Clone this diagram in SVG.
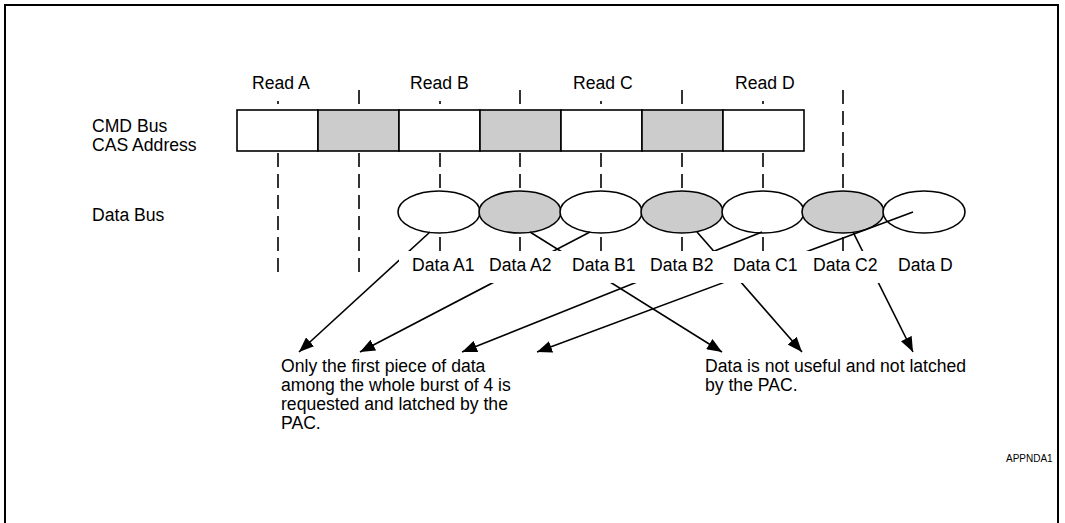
<svg xmlns="http://www.w3.org/2000/svg" width="1065" height="523" viewBox="0 0 1065 523">
<style>
text{font-family:"Liberation Sans",Arial,sans-serif;font-size:17.6px;fill:#000}
.dash{stroke:#000;stroke-width:1.6;stroke-dasharray:14 7;fill:none}
.cell{stroke:#000;stroke-width:1.6}
.w{fill:#fff}
.g{fill:#cccccc}
.con{stroke:#000;stroke-width:1.6;fill:none;marker-end:url(#ah)}
.mask{fill:#fff;stroke:none}
</style>
<defs>
<marker id="ah" viewBox="0 0 15 12" refX="15" refY="6" markerWidth="15" markerHeight="12" markerUnits="userSpaceOnUse" orient="auto">
<path d="M0,0 L15,6 L0,12 z" fill="#000"/>
</marker>
</defs>
<rect width="1065" height="523" fill="#fff"/>
<path d="M5,540 V5 H1058 V540" fill="none" stroke="#000" stroke-width="2"/>

<g id="gridlines">
<line class="dash" x1="278" y1="90" x2="278" y2="272"/>
<line class="dash" x1="359" y1="90" x2="359" y2="272"/>
<line class="dash" x1="440" y1="90" x2="440" y2="272"/>
<line class="dash" x1="520" y1="90" x2="520" y2="272"/>
<line class="dash" x1="601" y1="90" x2="601" y2="272"/>
<line class="dash" x1="682" y1="90" x2="682" y2="272"/>
<line class="dash" x1="763" y1="90" x2="763" y2="272"/>
<line class="dash" x1="843" y1="90" x2="843" y2="272"/>
</g>

<g id="read-labels">
<rect class="mask" x="240" y="68" width="80" height="33"/>
<rect class="mask" x="400" y="68" width="80" height="33"/>
<rect class="mask" x="561" y="68" width="80" height="33"/>
<rect class="mask" x="723" y="68" width="80" height="33"/>
<text x="252" y="89">Read A</text>
<text x="410" y="89">Read B</text>
<text x="573" y="89">Read C</text>
<text x="735" y="89">Read D</text>
</g>

<g id="row-labels">
<text x="92" y="132">CMD Bus</text>
<text x="92" y="151">CAS Address</text>
<text x="92" y="221">Data Bus</text>
</g>

<g id="cmd-bus">
<rect class="cell w" x="237" y="110" width="81" height="41"/>
<rect class="cell g" x="318" y="110" width="81" height="41"/>
<rect class="cell w" x="399" y="110" width="81" height="41"/>
<rect class="cell g" x="480" y="110" width="81" height="41"/>
<rect class="cell w" x="561" y="110" width="81" height="41"/>
<rect class="cell g" x="642" y="110" width="81" height="41"/>
<rect class="cell w" x="723" y="110" width="81" height="41"/>
</g>

<g id="data-bus">
<ellipse class="cell w" cx="439" cy="212" rx="41" ry="21"/>
<ellipse class="cell g" cx="520" cy="212" rx="41" ry="21"/>
<ellipse class="cell w" cx="601" cy="212" rx="41" ry="21"/>
<ellipse class="cell g" cx="682" cy="212" rx="41" ry="21"/>
<ellipse class="cell w" cx="763" cy="212" rx="41" ry="21"/>
<ellipse class="cell g" cx="843" cy="212" rx="41" ry="21"/>
<ellipse class="cell w" cx="924" cy="212" rx="41" ry="21"/>
</g>

<g id="connectors">
<line class="con" x1="430" y1="232" x2="299" y2="352"/>
<line class="con" x1="590" y1="232" x2="360" y2="352"/>
<line class="con" x1="762" y1="232" x2="462" y2="352"/>
<line class="con" x1="913" y1="212" x2="537" y2="352"/>
<line class="con" x1="530" y1="232" x2="722" y2="352"/>
<line class="con" x1="697" y1="232" x2="802" y2="352"/>
<line class="con" x1="853" y1="232" x2="913" y2="352"/>
</g>

<g id="data-labels">
<rect class="mask" x="399" y="251" width="566" height="32"/>
<text x="412" y="271">Data A1</text>
<text x="489" y="271">Data A2</text>
<text x="572" y="271">Data B1</text>
<text x="650" y="271">Data B2</text>
<text x="733" y="271">Data C1</text>
<text x="813" y="271">Data C2</text>
<text x="898" y="271">Data D</text>
</g>

<g id="note-latched">
<text x="281" y="372">Only the first piece of data</text>
<text x="281" y="391">among the whole burst of 4 is</text>
<text x="281" y="410">requested and latched by the</text>
<text x="281" y="429">PAC.</text>
</g>

<g id="note-unused">
<text x="705" y="372">Data is not useful and not latched</text>
<text x="705" y="391">by the PAC.</text>
</g>

<text x="1006" y="462" style="font-size:10px">APPNDA1</text>
</svg>
